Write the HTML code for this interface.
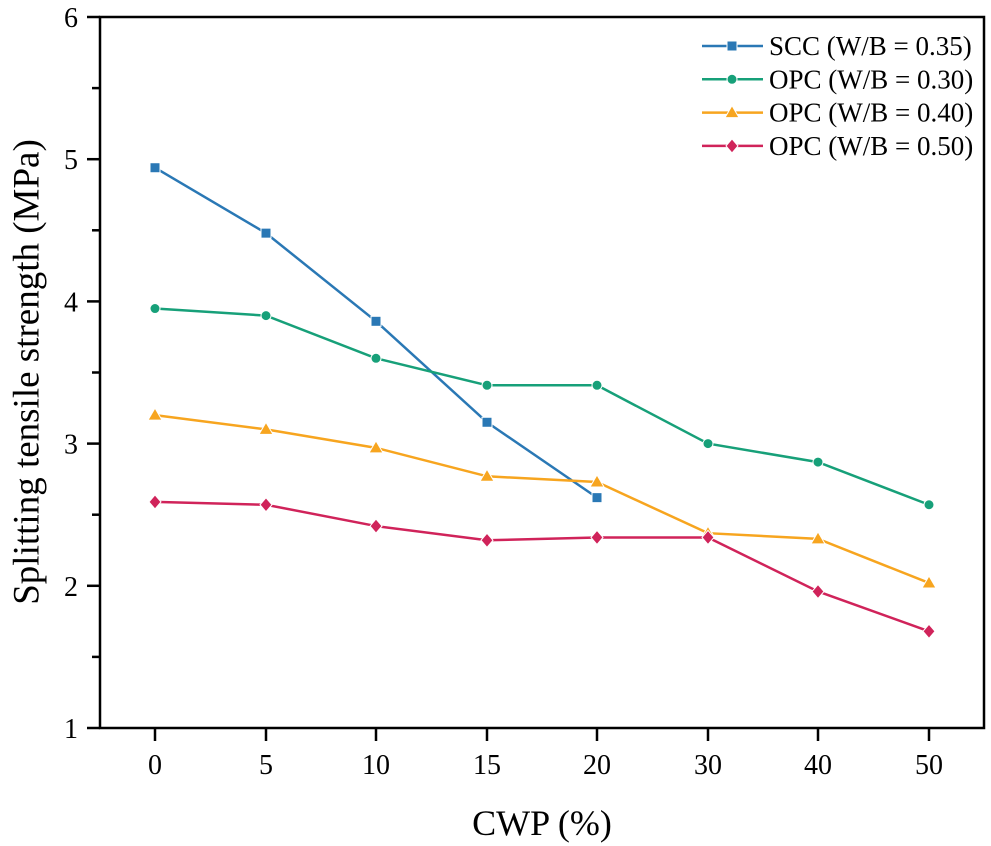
<!DOCTYPE html>
<html><head><meta charset="utf-8"><style>
html,body{margin:0;padding:0;background:#fff;}
svg{display:block;font-family:"Liberation Serif",serif;}
</style></head><body>
<svg id="s" width="991" height="846" xmlns="http://www.w3.org/2000/svg">
<rect x="100" y="17" width="884" height="711" fill="none" stroke="#000" stroke-width="2.5"/>
<g id="g"></g>
<text x="0" y="0" transform="translate(30,372) rotate(-90)" text-anchor="middle" font-size="37" dominant-baseline="middle">Splitting tensile strength (MPa)</text>
<text x="542" y="835" text-anchor="middle" font-size="36">CWP (%)</text>
</svg>
<script>
var g=document.getElementById('g'),h='';
function Y(v){return 728-(v-1)*142.2;}
var X=[155,266,376,487,597,708,818,929],xl=['0','5','10','15','20','30','40','50'];
for(var v=1;v<=6;v+=0.5){var y=Y(v);h+='<line x1="'+(v%1?92:87)+'" y1="'+y+'" x2="100" y2="'+y+'" stroke="#000" stroke-width="2.5"/>';if(v%1==0)h+='<text x="78" y="'+(y+10)+'" text-anchor="end" font-size="28">'+v+'</text>';}
X.forEach(function(x,i){h+='<line x1="'+x+'" y1="728" x2="'+x+'" y2="741" stroke="#000" stroke-width="2.5"/><text x="'+x+'" y="774" text-anchor="middle" font-size="28">'+xl[i]+'</text>';});
function mk(t,x,y,c){if(t==0)return '<rect x="'+(x-5)+'" y="'+(y-5)+'" width="10" height="10" fill="'+c+'" stroke="#fff" stroke-width="1"/>';
if(t==1)return '<circle cx="'+x+'" cy="'+y+'" r="5" fill="'+c+'" stroke="#fff" stroke-width="1"/>';
if(t==2)return '<polygon points="'+x+','+(y-7)+' '+(x+7)+','+(y+5)+' '+(x-7)+','+(y+5)+'" fill="'+c+'" stroke="#fff" stroke-width="1"/>';
return '<polygon points="'+x+','+(y-7)+' '+(x+6)+','+y+' '+x+','+(y+7)+' '+(x-6)+','+y+'" fill="'+c+'" stroke="#fff" stroke-width="1"/>';}
var S=[['#2a78b5',[4.94,4.48,3.86,3.15,2.62],'SCC (W/B = 0.35)'],
['#17a079',[3.95,3.90,3.60,3.41,3.41,3.00,2.87,2.57],'OPC (W/B = 0.30)'],
['#f7a51f',[3.20,3.10,2.97,2.77,2.73,2.37,2.33,2.02],'OPC (W/B = 0.40)'],
['#d0235a',[2.59,2.57,2.42,2.32,2.34,2.34,1.96,1.68],'OPC (W/B = 0.50)']];
S.forEach(function(s,k){var p=s[1].map(function(v,i){return X[i]+','+Y(v);}).join(' ');
h+='<polyline points="'+p+'" fill="none" stroke="'+s[0]+'" stroke-width="2.5"/>';
s[1].forEach(function(v,i){h+=mk(k,X[i],Y(v),s[0]);});
var ly=46+k*33.3;h+='<line x1="702" y1="'+ly+'" x2="763" y2="'+ly+'" stroke="'+s[0]+'" stroke-width="2.5"/>'+mk(k,732,ly,s[0])+'<text x="769" y="'+(ly+9)+'" font-size="27">'+s[2]+'</text>';});
g.innerHTML=h;
</script>
</body></html>
